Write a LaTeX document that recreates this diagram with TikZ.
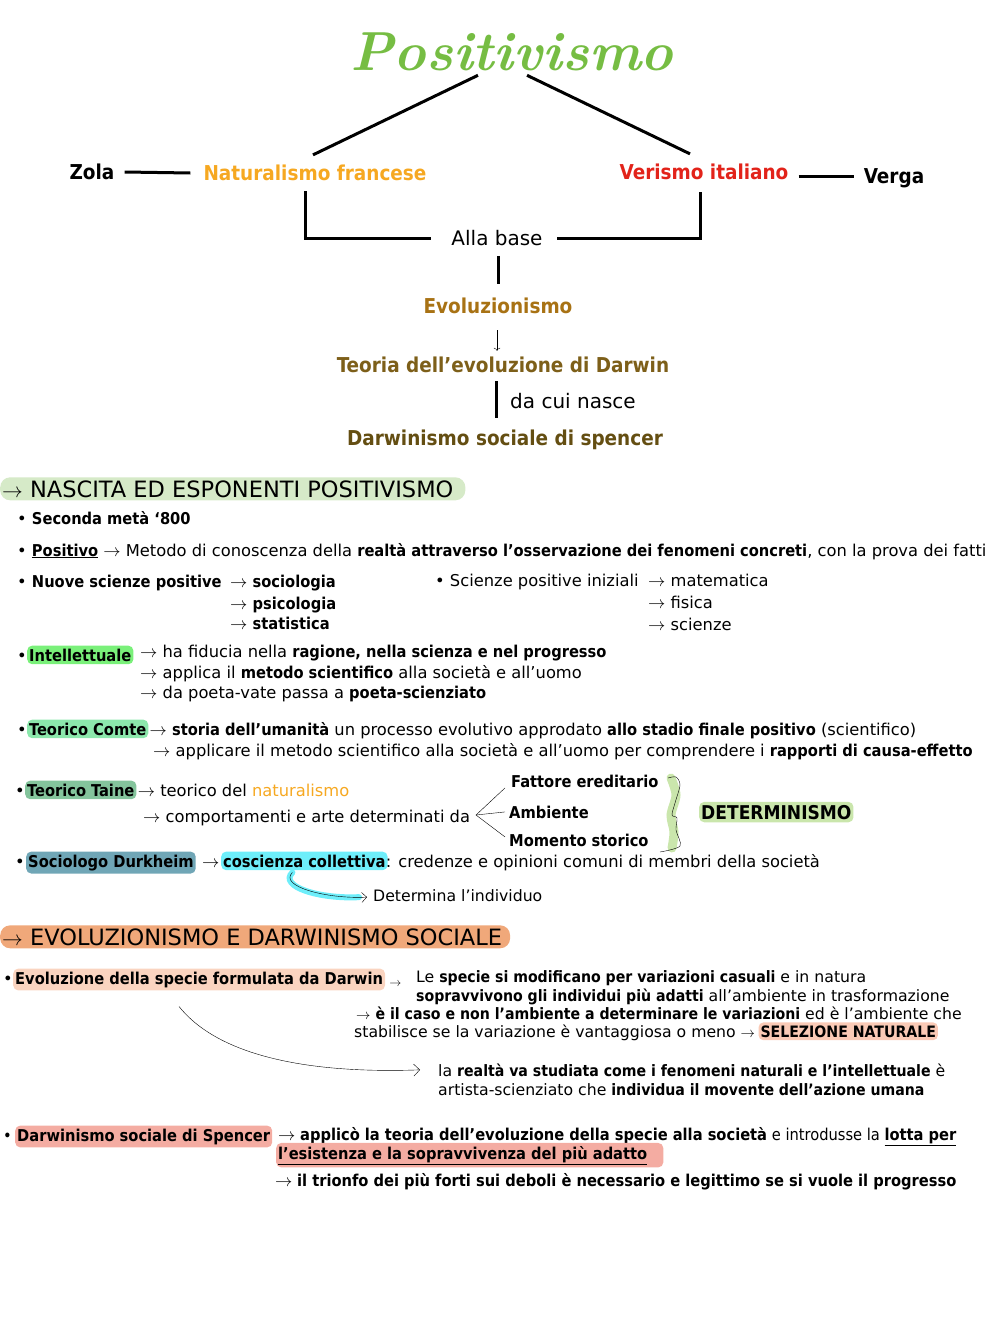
\documentclass[tikz,border=0pt]{standalone}
\usepackage{fontspec}
\setsansfont{DejaVu Sans}[BoldFont={DejaVu Sans Condensed Bold}]
\newfontfamily\narrowfont{DejaVu Sans Condensed}[BoldFont={DejaVu Sans Condensed Bold}]
\usepackage{tikz}
\usetikzlibrary{arrows.meta,positioning}

\definecolor{titlegreen}{RGB}{118,189,67}
\definecolor{natorange}{RGB}{246,168,33}
\definecolor{verred}{RGB}{226,35,26}
\definecolor{evobrown}{RGB}{168,114,20}
\definecolor{teoriabrown}{RGB}{125,95,25}
\definecolor{socbrown}{RGB}{100,78,18}
\definecolor{headgreen}{RGB}{214,234,200}
\definecolor{intelgreen}{RGB}{122,240,122}
\definecolor{comtegreen}{RGB}{140,232,172}
\definecolor{tainegreen}{RGB}{132,196,156}
\definecolor{durkblue}{RGB}{112,166,182}
\definecolor{cyanhl}{RGB}{110,238,250}
\definecolor{determgreen}{RGB}{202,230,172}
\definecolor{headsalmon}{RGB}{240,168,122}
\definecolor{evosalmon}{RGB}{250,212,192}
\definecolor{selsalmon}{RGB}{250,202,182}
\definecolor{spencerpink}{RGB}{244,172,162}

\begin{document}
\begin{tikzpicture}[x=1pt, y=1pt,
  every node/.style={inner sep=0pt, font=\sffamily\fontsize{16.3}{19}\selectfont},
  txt/.style={anchor=base west},
  small/.style={font=\sffamily\fontsize{15.7}{18}\selectfont},
  big/.style={font=\sffamily\fontsize{20}{23}\selectfont},
  bigb/.style={font=\sffamily\bfseries\fontsize{20.5}{23}\selectfont},
  head/.style={anchor=base west, font=\sffamily\fontsize{22.5}{25}\selectfont},
  narrow/.style={font=\narrowfont\fontsize{16.3}{19}\selectfont},
  hl/.style={fill=#1, rounded corners=5pt, inner xsep=2pt, inner ysep=3pt},
  bar/.style={line width=3pt}]
  \useasboundingbox (0,0) rectangle (1000,-1333);

  % schema in alto
  \node[font=\rmfamily\bfseries\itshape\fontsize{55}{55}\selectfont, text=titlegreen] (pos) at (512,-52) {Positivismo};
  \node[bigb] (zola) at (92,-172) {Zola};
  \node[bigb, text=natorange] (nat) at (315,-173) {Naturalismo francese};
  \node[bigb, text=verred] (ver) at (704,-172) {Verismo italiano};
  \node[bigb] (verga) at (894,-178) {Verga};
  \node[big] (base) at (497,-238) {Alla base};
  \node[bigb, text=evobrown] (evo) at (498,-306) {Evoluzionismo};
  \node[bigb, text=teoriabrown] (teoria) at (503,-365) {Teoria dell’evoluzione di Darwin};
  \node[big] (nasce) at (573,-401) {da cui nasce};
  \node[bigb, text=socbrown] (darsoc) at (505,-440) {Darwinismo sociale di spencer};

  \draw[bar] ([xshift=-34pt,yshift=-4pt]pos.south) -- ([xshift=-2pt,yshift=10pt]nat.north);
  \draw[bar] ([xshift=15pt,yshift=-4pt]pos.south) -- ([xshift=-14pt,yshift=10pt]ver.north);
  \draw[bar] ([xshift=10pt]zola.east) -- ([xshift=-13pt]nat.west);
  \draw[bar] ([xshift=10pt,yshift=-4pt]ver.east) -- ([xshift=-10pt,yshift=2pt]verga.west);
  \draw[bar] ([xshift=-10pt,yshift=-10pt]nat.south) |- ([xshift=-20pt]base.west);
  \draw[bar] ([xshift=-4pt,yshift=-12pt]ver.south) |- ([xshift=14pt]base.east);
  \draw[bar] ([xshift=1pt,yshift=-10pt]base.south) -- ([yshift=14pt]evo.north);
  \draw[-{To[length=3pt]}, thin] ([xshift=-1pt,yshift=-16pt]evo.south) -- ([xshift=-6pt,yshift=6pt]teoria.north);
  \draw[bar] ([xshift=-7pt,yshift=-8pt]teoria.south) -- ([xshift=-9pt,yshift=12pt]darsoc.north);

  % nascita ed esponenti
  \node[head, hl=headgreen, rounded corners=10pt] (nascita) at (0,-497) {$\rightarrow$ NASCITA ED ESPONENTI POSITIVISMO\hspace*{10pt}};
  \node[txt] (seconda) at (17,-524) {• \textbf{Seconda metà ‘800}};
  \node[txt] (positivo) at (17,-556) {• \textbf{\underline{Positivo}} $\rightarrow$ Metodo di conoscenza della \textbf{realtà attraverso l’osservazione dei fenomeni concreti}, con la prova dei fatti};
  \node[txt] (nuove) at (17,-587) {• \textbf{Nuove scienze positive}};
  \node[txt] (socio) at (230,-587) {$\rightarrow$ \textbf{sociologia}};
  \node[txt] (psico) at (230,-609) {$\rightarrow$ \textbf{psicologia}};
  \node[txt] (stat) at (230,-629) {$\rightarrow$ \textbf{statistica}};
  \node[txt] (iniz) at (435,-586) {• Scienze positive iniziali};
  \node[txt] (mate) at (648,-586) {$\rightarrow$ matematica};
  \node[txt] (fis) at (648,-608) {$\rightarrow$ fisica};
  \node[txt] (sci) at (648,-630) {$\rightarrow$ scienze};

  \node[txt] (b1) at (17,-661) {•};
  \node[txt, hl=intelgreen] (intel) at (27,-661) {\textbf{Intellettuale}};
  \node[txt] (fiducia) at (140,-657) {$\rightarrow$ ha fiducia nella \textbf{ragione, nella scienza e nel progresso}};
  \node[txt] (applica) at (140,-678) {$\rightarrow$ applica il \textbf{metodo scientifico} alla società e all'uomo};
  \node[txt] (vate) at (140,-698) {$\rightarrow$ da poeta-vate passa a \textbf{poeta-scienziato}};

  \node[txt] (b2) at (17,-735) {•};
  \node[txt, hl=comtegreen] (comte) at (27,-735) {\textbf{Teorico Comte}};
  \node[txt] (storia) at ([xshift=1pt]comte.base east) {$\rightarrow$ \textbf{storia dell'umanità} un processo evolutivo approdato \textbf{allo stadio finale positivo} (scientifico)};
  \node[txt] (metodo) at (153,-756) {$\rightarrow$ applicare il metodo scientifico alla società e all’uomo per comprendere i \textbf{rapporti di causa-effetto}};

  \node[txt] (b3) at (15,-796) {•};
  \node[txt, hl=tainegreen] (taine) at (25,-796) {\textbf{Teorico Taine}};
  \node[txt] (teorico) at ([xshift=1pt]taine.base east) {$\rightarrow$ teorico del \textcolor{natorange}{naturalismo}};
  \node[txt] (comport) at (143,-822) {$\rightarrow$ comportamenti e arte determinati da};
  \coordinate (fork) at (476,-815);
  \node[txt] (fattore) at (511,-787) {\textbf{Fattore ereditario}};
  \node[txt] (ambiente) at (509,-818) {\textbf{Ambiente}};
  \node[txt] (momento) at (509,-846) {\textbf{Momento storico}};
  \draw (fork) -- ([xshift=-6pt,yshift=-7pt]fattore.west);
  \draw (fork) -- ([xshift=-4pt]ambiente.west);
  \draw (fork) -- ([xshift=-4pt,yshift=3pt]momento.west);
  \draw[determgreen, line width=9pt, line cap=round] plot[smooth] coordinates {(671,-778) (676,-795) (671,-815) (674,-832) (672,-848)};
  \draw[thin] plot[smooth] coordinates {(668,-778) (676,-777) (680,-785) (675,-803) (672,-815) (677,-818) (676,-830) (680,-846) (660,-852)};
  \node[txt, hl=determgreen, font=\sffamily\bfseries\fontsize{19}{21}\selectfont] (determ) at (699,-819) {DETERMINISMO};

  \node[txt] (b4) at (15,-867) {•};
  \node[txt, hl=durkblue] (durk) at (26,-867) {\textbf{Sociologo Durkheim}};
  \node[txt] (darr) at ([xshift=6pt]durk.base east) {$\rightarrow$};
  \node[txt, hl=cyanhl] (cosc) at (221,-867) {\textbf{coscienza collettiva}};
  \node[txt] (credenze) at ([xshift=-2pt]cosc.base east) {: credenze e opinioni comuni di membri della società};
  \node[txt, small] (determina) at (373,-901) {Determina l'individuo};
  \draw[cyanhl, line width=6pt, line cap=round] ([xshift=-12pt,yshift=-2pt]cosc.south) .. controls +(-14,-14) and +(-40,-2) .. ([xshift=-14pt,yshift=-2pt]determina.west);
  \draw[-{Straight Barb[length=5pt]}, thin] ([xshift=-12pt,yshift=-2pt]cosc.south) .. controls +(-14,-14) and +(-40,-2) .. ([xshift=-6pt,yshift=-2pt]determina.west);

  % evoluzionismo e darwinismo sociale
  \node[head, hl=headsalmon, rounded corners=10pt] (evolsoc) at (0,-945) {$\rightarrow$ EVOLUZIONISMO E DARWINISMO SOCIALE\hspace*{6pt}};
  \node[txt] (b5) at (3,-984) {•};
  \node[txt, hl=evosalmon] (darwin) at (13,-984) {\textbf{Evoluzione della specie formulata da Darwin}};
  \node[txt, font=\sffamily\fontsize{12}{14}\selectfont] (darwarr) at ([xshift=4pt,yshift=-2pt]darwin.base east) {$\rightarrow$};
  \node[txt, small] (specie) at (416,-982) {Le \textbf{specie si modificano per variazioni casuali} e in natura};
  \node[txt, small] (soprav) at (416,-1001) {\textbf{sopravvivono gli individui più adatti} all’ambiente in trasformazione};
  \node[txt, small] (caso) at (356,-1019) {$\rightarrow$ \textbf{è il caso e non l'ambiente a determinare le variazioni} ed è l'ambiente che};
  \node[txt, small] (stabil) at (354,-1037) {stabilisce se la variazione è vantaggiosa o meno $\rightarrow$};
  \node[txt, small, hl=selsalmon] (selez) at ([xshift=3pt]stabil.base east) {\textbf{SELEZIONE NATURALE}};
  \node[txt, small] (realta) at (438,-1076) {la \textbf{realtà va studiata come i fenomeni naturali e l’intellettuale} è};
  \node[txt, small] (artista) at (438,-1095) {artista-scienziato che \textbf{individua il movente dell’azione umana}};
  \draw[-{Straight Barb[length=6pt]}, thin] ([xshift=-20pt,yshift=-16pt]darwin.south) .. controls +(40,-50) and +(-110,-4) .. ([xshift=-18pt]realta.west);

  \node[txt, narrow] (b6) at (3,-1141) {•};
  \node[txt, narrow, hl=spencerpink] (spencer) at (15,-1141) {\textbf{Darwinismo sociale di Spencer}};
  \node[txt, narrow] (applico) at (278,-1140) {$\rightarrow$ \textbf{applicò la teoria dell’evoluzione della specie alla società} e introdusse la \textbf{\underline{lotta per}}};
  \node[txt, narrow, hl=spencerpink] (lotta) at (276,-1159) {\textbf{\underline{l’esistenza e la sopravvivenza del più adatto}}\hspace*{14pt}};
  \node[txt, narrow] (trionfo) at (275,-1186) {$\rightarrow$ \textbf{il trionfo dei più forti sui deboli è necessario e legittimo se si vuole il progresso}};
\end{tikzpicture}
\end{document}
